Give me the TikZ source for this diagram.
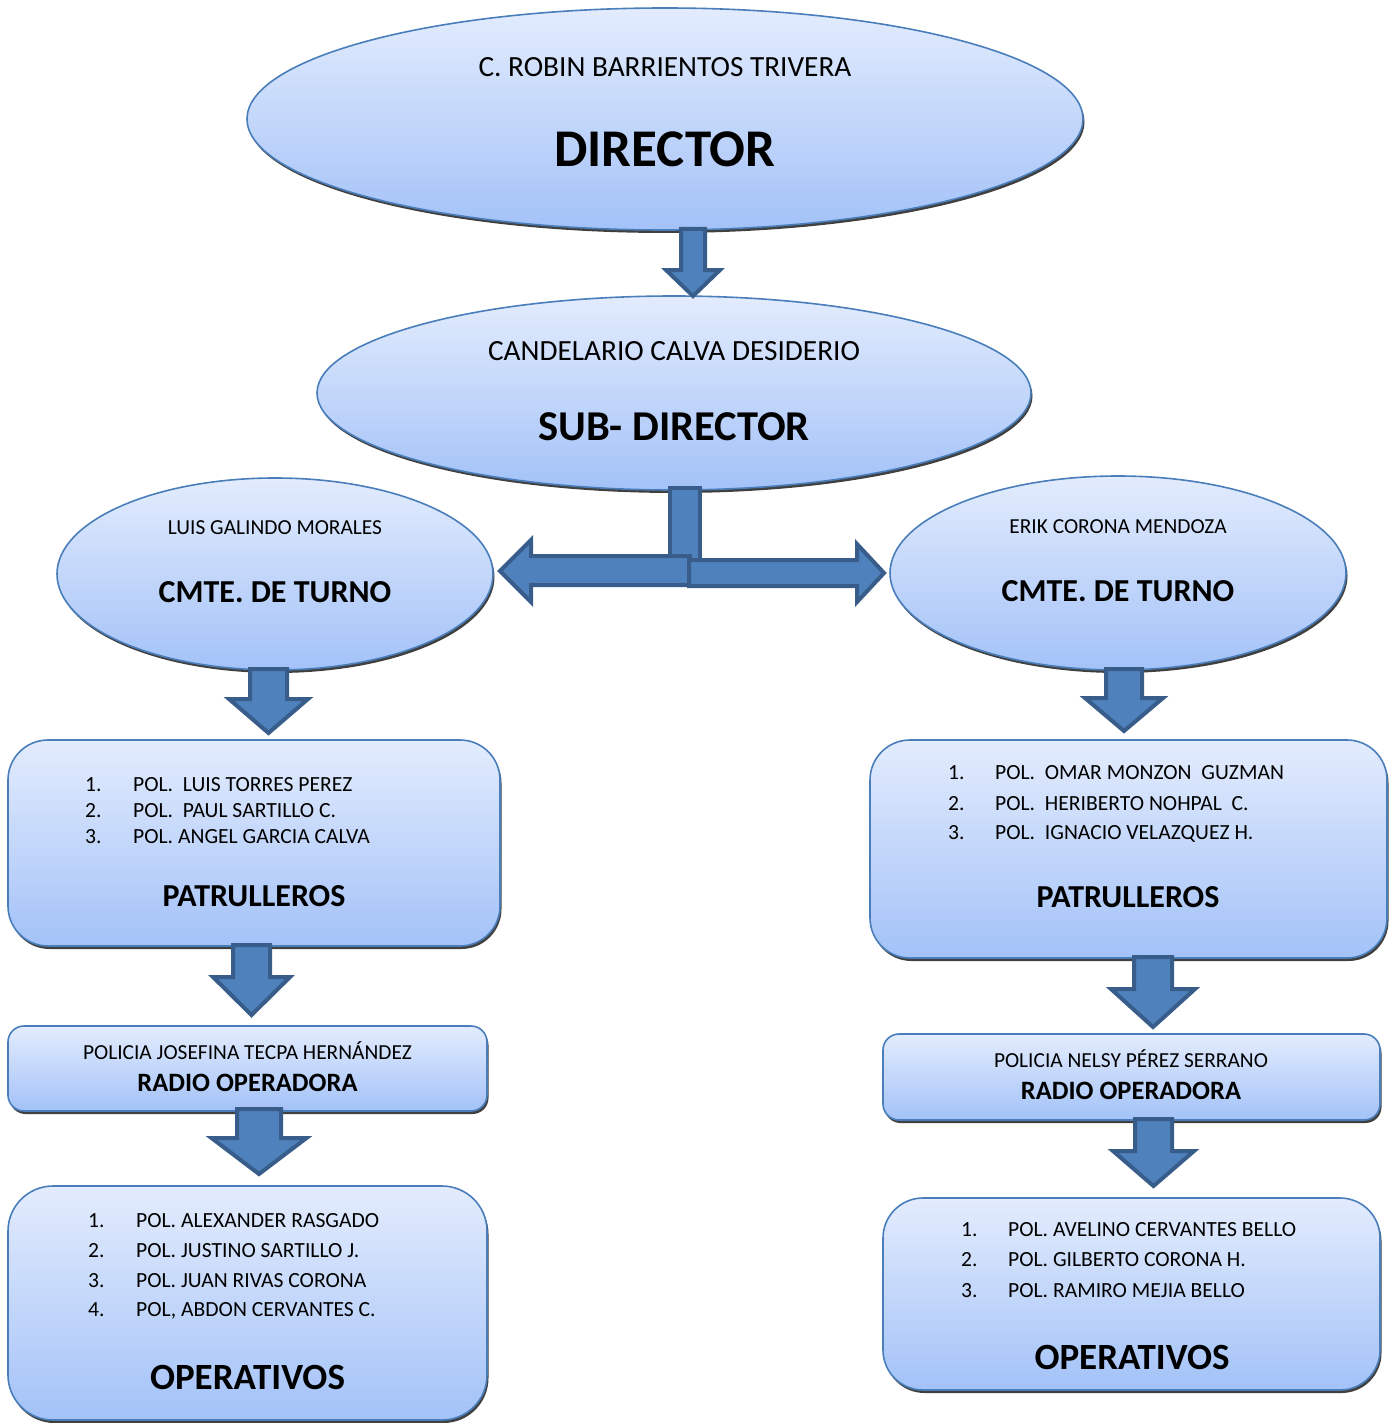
\documentclass[tikz,border=0pt]{standalone}
\usepackage{fontspec}
\setmainfont{Carlito}
\usetikzlibrary{shapes.geometric,shadows}
\definecolor{topc}{HTML}{E3ECFD}
\definecolor{botc}{HTML}{A3C2F8}
\definecolor{edgec}{HTML}{4A7EBB}
\definecolor{arrfill}{HTML}{4F81BD}
\definecolor{arredge}{HTML}{385D8A}
\newcommand\fs[1]{\fontsize{#1}{#1}\selectfont}
\newcommand\blockdown[6]{%
  \draw[barrow] ({#1-#5},#2) -- ({#1+#5},#2) -- ({#1+#5},#3) -- ({#1+#6},#3) -- (#1,#4) -- ({#1-#6},#3) -- ({#1-#5},#3) -- cycle;}
\tikzset{
  shape base/.style={draw=edgec, line width=1.6pt, top color=topc, bottom color=botc, inner sep=0pt,
    drop shadow={shadow xshift=1.5pt, shadow yshift=-3pt, fill=black, opacity=0.75}},
  oval/.style={shape base, ellipse},
  rbox/.style={shape base, rectangle, rounded corners=#1},
  barrow/.style={fill=arrfill, draw=arredge, line width=4pt, line join=miter},
  lbl/.style={anchor=base, inner sep=0pt, text=black},
  item/.style={anchor=base west, inner sep=0pt, text=black, font=\fs{21.6}},
}
\begin{document}
\begin{tikzpicture}[x=1pt,y=-1pt]
\useasboundingbox (0,0) rectangle (1394,1423);
\clip (0,0) rectangle (1394,1423);
% ellipses
\node[oval, minimum width=836pt, minimum height=222pt] (dir) at (665,119) {};
\node[oval, minimum width=714pt, minimum height=194pt] (sub) at (674,393) {};
\node[oval, minimum width=436pt, minimum height=192pt] (cl) at (275,574) {};
\node[oval, minimum width=456pt, minimum height=194pt] (cr) at (1118,573) {};
% boxes
\node[rbox=40pt, minimum width=492pt, minimum height=206pt] (pl) at (254,843) {};
\node[rbox=40pt, minimum width=517pt, minimum height=218pt] (pr) at (1128.5,849) {};
\node[rbox=16pt, minimum width=479pt, minimum height=85pt] (rl) at (247.5,1068.5) {};
\node[rbox=16pt, minimum width=497pt, minimum height=86pt] (rr) at (1131.5,1077) {};
\node[rbox=45pt, minimum width=479pt, minimum height=234pt] (ol) at (247.5,1303) {};
\node[rbox=40pt, minimum width=497pt, minimum height=192pt] (or) at (1131.5,1294) {};
% arrows
\blockdown{693}{229}{270}{296}{12}{27}
\draw[barrow] (670,488) rectangle (700,560);
\draw[barrow] (690,556) -- (531,556) -- (531,540) -- (500,571) -- (531,602) -- (531,585) -- (690,585) -- cycle;
\draw[barrow] (689,560) -- (857,560) -- (857,544) -- (884,573) -- (857,602) -- (857,586) -- (689,586) -- cycle;
\blockdown{268.5}{669}{699}{733}{18.5}{39.5}
\blockdown{1124}{669}{698}{731}{18}{39}
\blockdown{251.5}{945}{977}{1015}{18.5}{38.5}
\blockdown{1153}{957}{989}{1027}{19}{42}
\blockdown{259}{1109}{1138}{1174}{22}{47.5}
\blockdown{1153.5}{1119}{1151}{1186}{18.5}{40.5}
% texts
\node[lbl, font=\fs{29.3}] (dirn) at (665,76.3) {C. ROBIN BARRIENTOS TRIVERA};
\node[lbl, font=\fs{53}\bfseries] (dirt) at (665,166.7) {DIRECTOR};
\node[lbl, font=\fs{29.3}] (subn) at (674,360.3) {CANDELARIO CALVA DESIDERIO};
\node[lbl, font=\fs{42.5}\bfseries] (subt) at (674,440.5) {SUB- DIRECTOR};
\node[lbl, font=\fs{21.4}] (cln) at (275,534.8) {LUIS GALINDO MORALES};
\node[lbl, font=\fs{32}\bfseries] (clt) at (275,602.3) {CMTE. DE TURNO};
\node[lbl, font=\fs{21.4}] (crn) at (1118,533.8) {ERIK CORONA MENDOZA};
\node[lbl, font=\fs{32}\bfseries] (crt) at (1118,601.3) {CMTE. DE TURNO};
% left patrulleros
\node[item] (pl1) at (85,791.8) {\makebox[48pt][l]{1.}POL.\ \ LUIS TORRES PEREZ};
\node[item] (pl2) at (85,817.8) {\makebox[48pt][l]{2.}POL.\ \ PAUL SARTILLO C.};
\node[item] (pl3) at (85,843.8) {\makebox[48pt][l]{3.}POL. ANGEL GARCIA CALVA};
\node[lbl, font=\fs{32}\bfseries] (plt) at (254,906.3) {PATRULLEROS};
% right patrulleros
\node[item] (pr1) at (948,779.8) {\makebox[47pt][l]{1.}POL.\ \ OMAR MONZON\ \ GUZMAN};
\node[item] (pr2) at (948,810.8) {\makebox[47pt][l]{2.}POL.\ \ HERIBERTO NOHPAL\ \ C.};
\node[item] (pr3) at (948,839.8) {\makebox[47pt][l]{3.}POL.\ \ IGNACIO VELAZQUEZ H.};
\node[lbl, font=\fs{32}\bfseries] (prt) at (1128,907.3) {PATRULLEROS};
% radio
\node[lbl, font=\fs{21.4}] (rln) at (247.5,1059.8) {POLICIA JOSEFINA TECPA HERNÁNDEZ};
\node[lbl, font=\fs{26.5}\bfseries] (rlt) at (247.5,1091.5) {RADIO OPERADORA};
\node[lbl, font=\fs{21.4}] (rrn) at (1131,1067.8) {POLICIA NELSY PÉREZ SERRANO};
\node[lbl, font=\fs{26.5}\bfseries] (rrt) at (1131,1099.5) {RADIO OPERADORA};
% left operativos
\node[item] (ol1) at (88,1227.8) {\makebox[48pt][l]{1.}POL. ALEXANDER RASGADO};
\node[item] (ol2) at (88,1257.8) {\makebox[48pt][l]{2.}POL. JUSTINO SARTILLO J.};
\node[item] (ol3) at (88,1287.8) {\makebox[48pt][l]{3.}POL. JUAN RIVAS CORONA};
\node[item] (ol4) at (88,1316.8) {\makebox[48pt][l]{4.}POL, ABDON CERVANTES C.};
\node[lbl, font=\fs{37}\bfseries] (olt) at (247.5,1389.9) {OPERATIVOS};
% right operativos
\node[item] (or1) at (961,1236.8) {\makebox[47pt][l]{1.}POL. AVELINO CERVANTES BELLO};
\node[item] (or2) at (961,1266.8) {\makebox[47pt][l]{2.}POL. GILBERTO CORONA H.};
\node[item] (or3) at (961,1297.8) {\makebox[47pt][l]{3.}POL. RAMIRO MEJIA BELLO};
\node[lbl, font=\fs{37}\bfseries] (ort) at (1132,1369.9) {OPERATIVOS};
\end{tikzpicture}
\end{document}
